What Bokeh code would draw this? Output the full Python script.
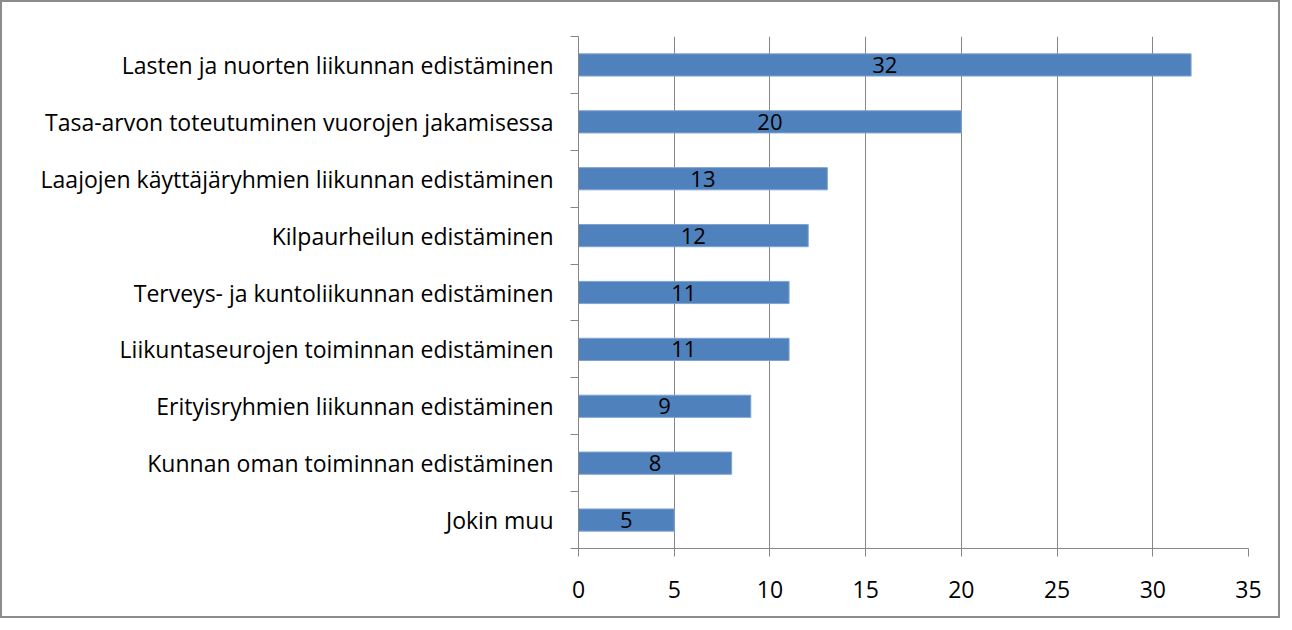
from bokeh.plotting import figure
from bokeh.models import Range1d, FixedTicker, ColumnDataSource, LabelSet
from bokeh.core.properties import value
from bokeh.embed import file_html
from bokeh.resources import INLINE

categories = [
    "Lasten ja nuorten liikunnan edistäminen",
    "Tasa-arvon toteutuminen vuorojen jakamisessa",
    "Laajojen käyttäjäryhmien liikunnan edistäminen",
    "Kilpaurheilun edistäminen",
    "Terveys- ja kuntoliikunnan edistäminen",
    "Liikuntaseurojen toiminnan edistäminen",
    "Erityisryhmien liikunnan edistäminen",
    "Kunnan oman toiminnan edistäminen",
    "Jokin muu",
]
values = [32, 20, 13, 12, 11, 11, 9, 8, 5]
x_ticks = [0, 5, 10, 15, 20, 25, 30, 35]

n = len(categories)
ypos = [n - 1 - i for i in range(n)]
src = ColumnDataSource(dict(
    y=ypos, v=values, mid=[v / 2 for v in values],
    lab=[str(v) for v in values],
))

FONT = "Open Sans"
FS = "23px"
GRAY = "#868686"

p = figure(
    output_backend="svg", toolbar_location=None,
    frame_width=670, frame_height=512,
    min_border_left=576, min_border_right=30,
    min_border_top=34, min_border_bottom=68,
    x_range=Range1d(0, 35), y_range=Range1d(-0.5, n - 0.5),
)
p.styles = {"border": "2px solid #8c8c8c"}
p.outline_line_color = None

p.hbar(y="y", right="v", left=0, height=0.39, source=src,
       fill_color="#4F81BD", line_color="#7FA3D1", line_width=1)

labels = LabelSet(x="mid", y="y", text="lab", source=src,
                  text_align="center", text_baseline="middle",
                  text_font=value(FONT), text_font_size=value("22px"),
                  text_color="#000000")
p.add_layout(labels)

# x axis
p.xaxis.ticker = FixedTicker(ticks=x_ticks)
p.xaxis.axis_line_color = GRAY
p.xaxis.major_tick_line_color = GRAY
p.xaxis.major_tick_out = 8
p.xaxis.major_tick_in = 0
p.xaxis.minor_tick_line_color = None
p.xaxis.major_label_text_font = FONT
p.xaxis.major_label_text_font_size = FS
p.xaxis.major_label_text_color = "#000000"
p.xaxis.major_label_standoff = 24

# y axis
p.yaxis.ticker = FixedTicker(ticks=ypos, minor_ticks=[k - 0.5 for k in range(n + 1)])
p.yaxis.major_label_overrides = {y: c for y, c in zip(ypos, categories)}
p.yaxis.axis_line_color = GRAY
p.yaxis.major_tick_line_color = None
p.yaxis.major_tick_out = 0
p.yaxis.major_tick_in = 0
p.yaxis.minor_tick_line_color = GRAY
p.yaxis.minor_tick_out = 8
p.yaxis.minor_tick_in = 0
p.yaxis.major_label_text_font = FONT
p.yaxis.major_label_text_font_size = FS
p.yaxis.major_label_text_color = "#000000"
p.yaxis.major_label_standoff = 17

p.xgrid.grid_line_color = GRAY
p.ygrid.grid_line_color = None

open("out.html", "w").write(file_html(p, INLINE))
